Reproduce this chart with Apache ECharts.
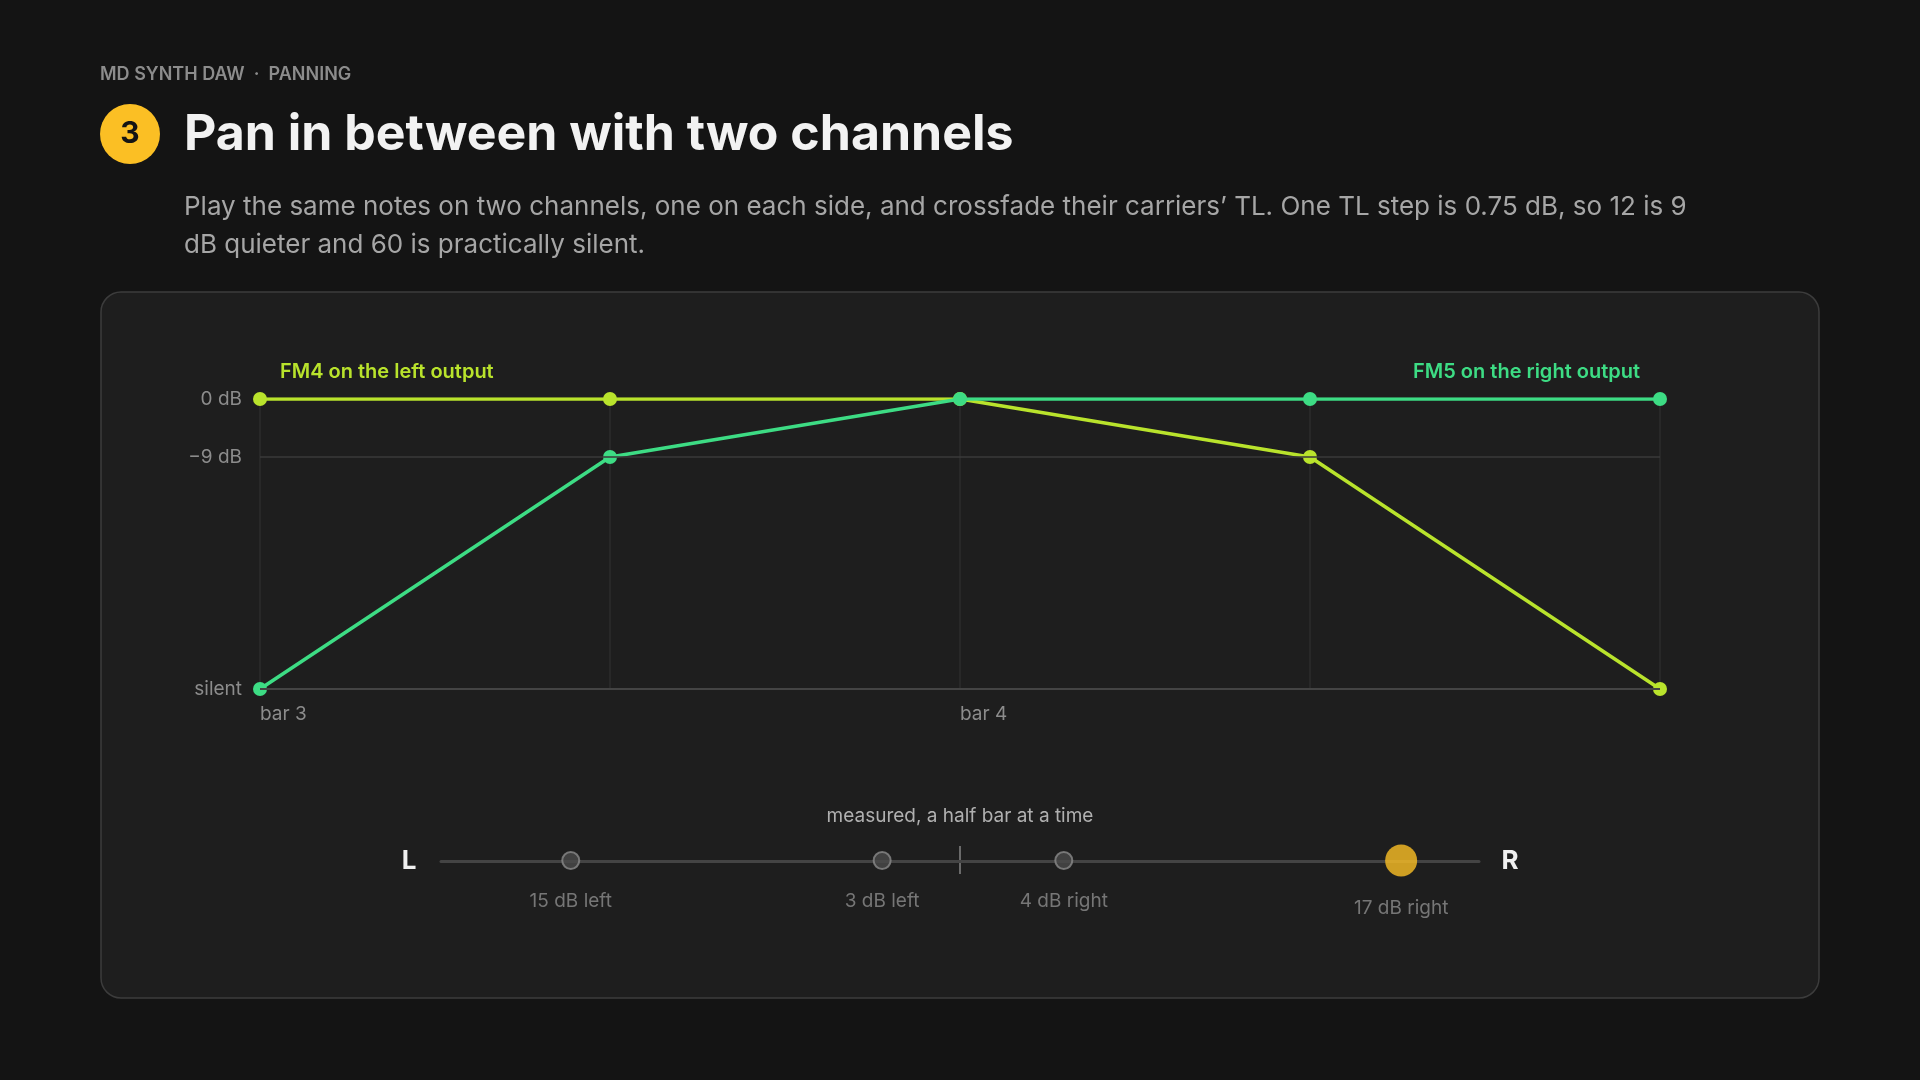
<!DOCTYPE html>
<html><head><meta charset="utf-8">
<script src="https://cdn.jsdelivr.net/npm/echarts@6/dist/echarts.min.js"></script>
<style>html,body{margin:0;background:#141414;}#c{width:1920px;height:1080px;}</style>
</head><body><div id="c"></div>
<script>
const steps = [0, 1, 2, 3, 4];
const xLabels = {0: 'bar 3', 2: 'bar 4'};
const fm4 = [0, 0, 0, -9, -45];
const fm5 = [-45, -9, 0, 0, 0];
const yTicks = {0: '0 dB', '-9': '−9 dB', '-45': 'silent'};
const panValues = [-15, -3, 4, 17];
const panLabels = ['15 dB left', '3 dB left', '4 dB right', '17 dB right'];

const C4 = '#b9e32c', C5 = '#3ddc84', F = 'Inter, "Noto Sans", sans-serif';
const chart = echarts.init(document.getElementById('c'));
const dotStyle = {color:'#4a4a4a', borderColor:'#8a8a8a', borderWidth:2};
chart.setOption({
  backgroundColor:'#141414', animation:false,
  textStyle:{fontFamily:F},
  graphic:[
    {type:'rect', shape:{x:101,y:292,width:1718,height:706,r:20}, style:{fill:'#1e1e1e', stroke:'#3c3c3c', lineWidth:1.5}, z:-10},
    {type:'text', x:100, y:66, style:{text:'MD SYNTH DAW  ·  PANNING', fill:'#8c8c8c', font:'600 18px '+F}},
    {type:'circle', shape:{cx:130,cy:134,r:30}, style:{fill:'#fbbf24'}},
    {type:'text', x:130, y:134, style:{text:'3', fill:'#141414', font:'700 30px '+F, align:'center', verticalAlign:'middle'}},
    {type:'text', x:184, y:110, style:{text:'Pan in between with two channels', fill:'#f2f2f2', font:'700 50px '+F}},
    {type:'text', x:184, y:188, style:{text:'Play the same notes on two channels, one on each side, and crossfade their carriers’ TL. One TL step is 0.75 dB, so 12 is 9\ndB quieter and 60 is practically silent.', fill:'#a6a6a6', font:'400 26px '+F, lineHeight:38}},
    {type:'text', x:280, y:362, style:{text:'FM4 on the left output', fill:C4, font:'600 20px '+F}},
    {type:'text', x:1640, y:362, style:{text:'FM5 on the right output', fill:C5, font:'600 20px '+F, align:'right'}},
    {type:'text', x:960, y:816, style:{text:'measured, a half bar at a time', fill:'#b0b0b0', font:'400 19px '+F, align:'center', verticalAlign:'middle'}},
    {type:'text', x:409, y:861, style:{text:'L', fill:'#f0f0f0', font:'700 26px '+F, align:'center', verticalAlign:'middle'}},
    {type:'text', x:1510, y:861, style:{text:'R', fill:'#f0f0f0', font:'700 26px '+F, align:'center', verticalAlign:'middle'}},
    {type:'line', shape:{x1:960,y1:846,x2:960,y2:874}, style:{stroke:'#6a6a6a', lineWidth:2}}
  ],
  grid:[
    {left:260, width:1400, top:399, height:290},
    {left:441, width:1038, top:860, height:1}
  ],
  xAxis:[
    {type:'value', gridIndex:0, min:0, max:4, interval:1,
     axisLine:{show:false}, axisTick:{show:false},
     splitLine:{show:true, lineStyle:{color:'#2c2c2c', width:1.5}},
     axisLabel:{formatter:v=>xLabels[v]||'', color:'#8c8c8c', fontSize:19, align:'left', margin:16}},
    {type:'value', gridIndex:1, min:-20, max:20,
     axisLine:{show:true, onZero:false, lineStyle:{color:'#444', width:3}},
     axisTick:{show:false}, axisLabel:{show:false}, splitLine:{show:false}}
  ],
  yAxis:[
    {type:'value', gridIndex:0, min:-45, max:0, interval:9,
     axisLine:{show:false}, axisTick:{show:false}, splitLine:{show:false},
     axisLabel:{formatter:v=>yTicks[v]||'', color:'#8c8c8c', fontSize:19, margin:18}},
    {type:'value', gridIndex:1, min:-1, max:1, show:false}
  ],
  series:[
    {type:'line', xAxisIndex:0, yAxisIndex:0, silent:true, symbol:'none', data:[],
     markLine:{symbol:'none', silent:true, label:{show:false},
       lineStyle:{color:'#3a3a3a', type:'solid', width:1.5},
       data:[{yAxis:-9},{yAxis:-45, lineStyle:{color:'#444', width:2}}]}},
    {name:'FM5', type:'line', data:steps.map((s,i)=>[s,fm5[i]]), color:C5,
     lineStyle:{width:3.5, color:C5}, symbol:'circle', symbolSize:14, itemStyle:{color:C5}, z:3},
    {name:'FM4', type:'line', data:steps.map((s,i)=>[s,fm4[i]]), color:C4,
     lineStyle:{width:3.5, color:C4}, symbol:'circle', symbolSize:14, itemStyle:{color:C4}, z:2},
    {type:'scatter', xAxisIndex:1, yAxisIndex:1, z:5,
     data:panValues.map((v,i)=>({value:[v,0], name:panLabels[i],
       symbolSize: i===panValues.length-1?32:17,
       itemStyle: i===panValues.length-1?{color:'#fbbf24', borderWidth:0}:dotStyle})),
     label:{show:true, position:'bottom', distance:22, formatter:p=>p.name, color:'#8c8c8c', fontSize:19, fontFamily:F}}
  ]
});
</script></body></html>
